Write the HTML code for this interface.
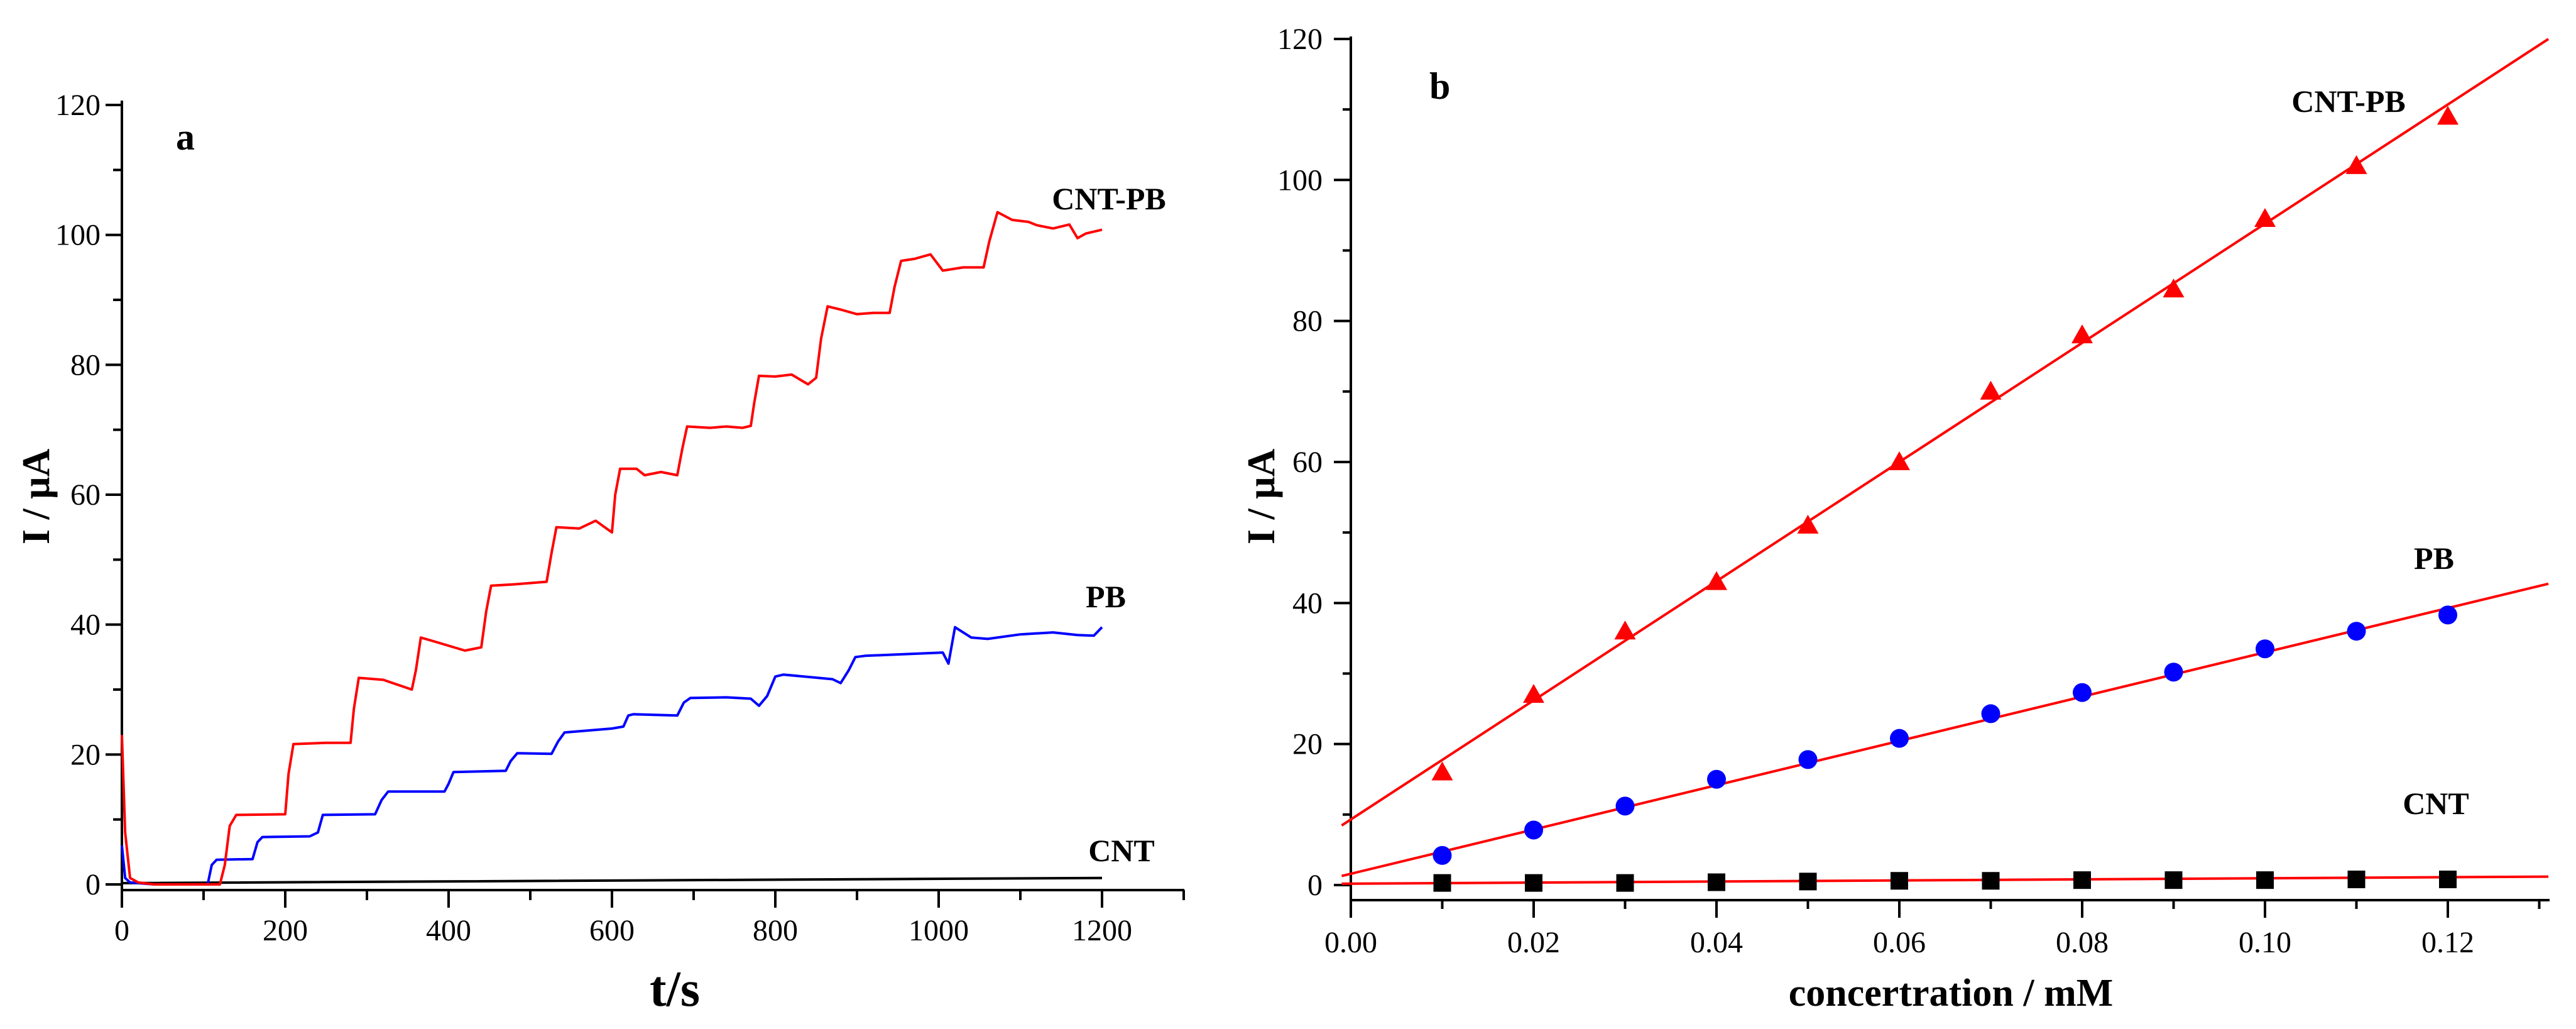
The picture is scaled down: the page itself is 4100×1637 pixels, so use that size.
<!DOCTYPE html>
<html><head><meta charset="utf-8"><style>
html,body{margin:0;padding:0;background:#fff;}
svg{display:block;font-family:"Liberation Serif",serif;}
</style></head><body>
<svg id="c" width="4100" height="1637" viewBox="0 0 4100 1637" xmlns="http://www.w3.org/2000/svg">
<g id="pa"></g>
<g id="pb"></g>
</svg>
<script>
// Panel a data (time s, current uA)
const aRedT=[0,4,10,20,40,120,126,132,140,200,204,210,250,280,284,290,320,355,360,366,380,420,440,446,452,480,520,526,532,560,580,600,604,610,630,640,660,680,686,692,720,740,760,770,774,780,800,820,840,850,856,864,880,900,920,940,946,954,970,990,1005,1010,1030,1055,1062,1072,1090,1110,1120,1140,1160,1170,1180,1200];
const aRedV=[23,8,1,0.3,0,0,3,9,10.7,10.8,17,21.6,21.8,21.8,27,31.8,31.5,30,33,38,37.5,36,36.5,42,46,46.2,46.6,51,55,54.8,56,54.2,60,64,64,63,63.5,63,67,70.5,70.3,70.5,70.3,70.6,74,78.3,78.2,78.5,77,78,84,89,88.5,87.8,88,88,92,96,96.3,97,94.5,94.6,95,95,99,103.5,102.3,102,101.5,101,101.6,99.5,100.2,100.8];
const aBlueT=[0,4,10,40,105,110,116,160,166,172,230,240,246,310,318,326,395,400,406,470,476,484,526,534,542,600,614,620,626,680,688,696,740,770,780,790,800,810,870,880,890,898,910,1005,1012,1020,1040,1060,1100,1140,1170,1190,1200];
const aBlueV=[6,1,0.3,0,0,3,3.8,3.9,6.5,7.3,7.4,8,10.7,10.8,13,14.3,14.3,15.5,17.3,17.5,19,20.2,20.1,22,23.4,24,24.3,26,26.2,26,28,28.7,28.8,28.6,27.5,29,32,32.3,31.6,31,33,35,35.2,35.7,34,39.6,38,37.8,38.5,38.8,38.4,38.3,39.6];
const aBlackT=[0,10,1200];
const aBlackV=[0.2,0.2,1.0];
const aXTicks=[0,200,400,600,800,1000,1200];
const aYTicks=[0,20,40,60,80,100,120];
// Panel b data
const bConc=[0.01,0.02,0.03,0.04,0.05,0.06,0.07,0.08,0.09,0.10,0.11,0.12];
const bCntPb=[16,27,36,43,51,60,70,78,84.5,94.5,102,109];
const bPb=[4.2,7.8,11.2,15,17.8,20.8,24.3,27.3,30.2,33.5,36,38.3];
const bCnt=[0.3,0.3,0.3,0.4,0.5,0.6,0.6,0.7,0.7,0.7,0.8,0.8];
const bFitCntPb=[9.3,845];
const bFitPb=[1.6,314];
const bFitCnt=[0.2,7.6];
const bXTicks=["0.00","0.02","0.04","0.06","0.08","0.10","0.12"];
const bYTicks=[0,20,40,60,80,100,120];

const NS="http://www.w3.org/2000/svg";
function mk(parent,tag,attrs,txt){const e=document.createElementNS(NS,tag);for(const k in attrs)e.setAttribute(k,attrs[k]);if(txt!==undefined)e.textContent=txt;parent.appendChild(e);return e;}

// ---------- Panel a ----------
const pa=document.getElementById('pa');
const ax=t=>194+t*1.3, ay=v=>1407-v*10.333;
let e;
e=mk(pa,'line',{x1:194,y1:160,x2:194,y2:1444,stroke:'#000','stroke-width':4});


e=mk(pa,'line',{x1:194,y1:1416,x2:1885,y2:1416,stroke:'#000','stroke-width':4});


for(let v=0;v<=120;v+=10){const maj=v%20===0;
 e=mk(pa,'line',{x1:maj?168:180,y1:ay(v),x2:194,y2:ay(v),stroke:'#000','stroke-width':4});
 
 }
aYTicks.forEach(v=>{e=mk(pa,'text',{x:160,y:ay(v)+16,'text-anchor':'end','font-size':48},String(v));
 
 });
for(let t=0;t<=1300;t+=100){const maj=t%200===0;
 e=mk(pa,'line',{x1:ax(t),y1:1416,x2:ax(t),y2:maj?1444:1432,stroke:'#000','stroke-width':4});
 
 }
aXTicks.forEach(t=>{e=mk(pa,'text',{x:ax(t),y:1496,'text-anchor':'middle','font-size':48},String(t));
 
 });
function poly(g,T,V,fx,fy,col,name){const p=T.map((t,i)=>fx(t).toFixed(1)+','+fy(V[i]).toFixed(1)).join(' ');
 const el=mk(g,'polyline',{points:p,fill:'none',stroke:col,'stroke-width':4,'stroke-linejoin':'round'});
 
 }
poly(pa,aBlackT,aBlackV,ax,ay,'#000','a-cnt-line');
poly(pa,aBlueT,aBlueV,ax,ay,'#0000ff','a-pb-line');
poly(pa,aRedT,aRedV,ax,ay,'#ff0000','a-cnt-pb-line');
e=mk(pa,'text',{x:280,y:238,'font-size':60,'font-weight':'bold'},'a');


e=mk(pa,'text',{x:1765,y:333,'text-anchor':'middle','font-size':50,'font-weight':'bold'},'CNT-PB');


e=mk(pa,'text',{x:1760,y:966,'text-anchor':'middle','font-size':50,'font-weight':'bold'},'PB');


e=mk(pa,'text',{x:1785,y:1370,'text-anchor':'middle','font-size':50,'font-weight':'bold'},'CNT');


e=mk(pa,'text',{x:1074,y:1600,'text-anchor':'middle','font-size':80,'font-weight':'bold'},'t/s');


e=mk(pa,'text',{x:0,y:0,'text-anchor':'middle','font-size':62,'font-weight':'bold',transform:'translate(78,790) rotate(-90)'},'I / μA');



// ---------- Panel b ----------
const pb=document.getElementById('pb');
const bx=c=>2150+c*14550, by=v=>1408-v*11.217;
e=mk(pb,'line',{x1:2150,y1:58,x2:2150,y2:1460,stroke:'#000','stroke-width':4});


e=mk(pb,'line',{x1:2150,y1:1432,x2:4058,y2:1432,stroke:'#000','stroke-width':4});


for(let v=0;v<=120;v+=10){const maj=v%20===0;
 e=mk(pb,'line',{x1:maj?2123:2137,y1:by(v),x2:2150,y2:by(v),stroke:'#000','stroke-width':4});
 
 }
bYTicks.forEach(v=>{e=mk(pb,'text',{x:2105,y:by(v)+16,'text-anchor':'end','font-size':48},String(v));
 
 });
for(let i=0;i<=13;i++){const c=i*0.01;const maj=i%2===0;
 e=mk(pb,'line',{x1:bx(c),y1:1432,x2:bx(c),y2:maj?1460:1446,stroke:'#000','stroke-width':4});
 
 }
bXTicks.forEach(s=>{e=mk(pb,'text',{x:bx(parseFloat(s)),y:1515,'text-anchor':'middle','font-size':48},s);
 
 });
function fit(f,name){const c0=-0.001,c1=0.131;
 e=mk(pb,'line',{x1:bx(c0),y1:by(f[0]+f[1]*c0),x2:bx(c1),y2:by(f[0]+f[1]*c1),stroke:'#ff0000','stroke-width':4});
 
 }
fit(bFitCntPb,'b-fit-cnt-pb');fit(bFitPb,'b-fit-pb');fit(bFitCnt,'b-fit-cnt');
bConc.forEach((c,i)=>{const x=bx(c);
 let y=by(bCnt[i]);
 e=mk(pb,'rect',{x:x-14,y:y-14,width:28,height:28,fill:'#000'});
 
 
 y=by(bPb[i]);
 e=mk(pb,'circle',{cx:x,cy:y,r:15,fill:'#0000ff'});
 
 
 y=by(bCntPb[i]);
 e=mk(pb,'polygon',{points:`${x},${y-17} ${x-17},${y+13} ${x+17},${y+13}`,fill:'#ff0000'});
 
 });
e=mk(pb,'text',{x:2275,y:157,'font-size':60,'font-weight':'bold'},'b');


e=mk(pb,'text',{x:3738,y:178,'text-anchor':'middle','font-size':50,'font-weight':'bold'},'CNT-PB');


e=mk(pb,'text',{x:3874,y:905,'text-anchor':'middle','font-size':50,'font-weight':'bold'},'PB');


e=mk(pb,'text',{x:3877,y:1295,'text-anchor':'middle','font-size':50,'font-weight':'bold'},'CNT');


e=mk(pb,'text',{x:3105,y:1600,'text-anchor':'middle','font-size':62,'font-weight':'bold'},'concertration / mM');


e=mk(pb,'text',{x:0,y:0,'text-anchor':'middle','font-size':62,'font-weight':'bold',transform:'translate(2028,790) rotate(-90)'},'I / μA');


</script>
</body></html>
